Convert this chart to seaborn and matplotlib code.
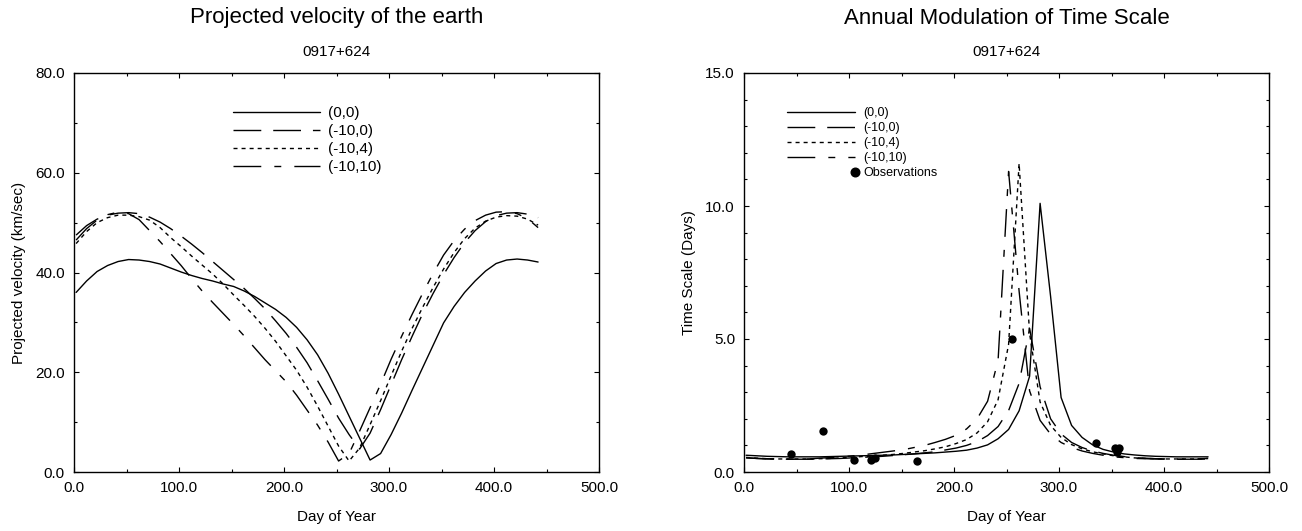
import numpy as np
import pandas as pd
import seaborn as sns
import matplotlib.pyplot as plt
from matplotlib.ticker import MultipleLocator, FormatStrFormatter
from matplotlib.legend_handler import HandlerLine2D

# Dados --------------------------------------------------------------------
dias = [2, 12, 22, 32, 42, 52, 62, 72, 82, 92, 102, 112, 122, 132, 142,
        152, 162, 172, 182, 192, 202, 212, 222, 232, 242, 252, 262, 272, 282,
        292, 302, 312, 322, 332, 342, 352, 362, 372, 382, 392, 402, 412, 422,
        432, 442]

series = ['(0,0)', '(-10,0)', '(-10,4)', '(-10,10)']

# velocidade projetada (km/sec)
vel_0_0 = [36.0, 38.3, 40.2, 41.4, 42.2, 42.6, 42.5, 42.2, 41.7, 40.9, 40.1,
           39.4, 38.8, 38.3, 37.7, 37.2, 36.3, 35.2, 33.9, 32.6, 31.0, 29.0,
           26.5, 23.5, 19.8, 15.6, 11.2, 6.8, 2.4, 3.7, 7.5, 11.8, 16.4, 20.9,
           25.4, 29.9, 33.2, 36.0, 38.3, 40.3, 41.8, 42.5, 42.7, 42.5, 42.1]
vel_10_0 = [47.5, 49.4, 50.7, 51.5, 51.9, 52.0, 51.8, 51.1, 50.1, 48.8, 47.3,
            45.7, 44.0, 42.2, 40.4, 38.6, 36.8, 34.8, 32.7, 30.3, 27.8, 25.0,
            21.9, 18.3, 14.6, 10.8, 7.5, 4.6, 7.8, 12.5, 17.5, 22.5, 27.2,
            31.7, 35.8, 39.6, 43.0, 46.0, 48.4, 50.2, 51.4, 51.9, 52.0, 51.7,
            51.0]
vel_10_4 = [45.8, 48.2, 50.0, 51.0, 51.5, 51.5, 51.2, 50.5, 49.0, 47.0, 45.2,
            43.3, 41.5, 39.7, 37.7, 35.5, 33.4, 31.2, 28.8, 26.2, 23.3, 20.4,
            17.0, 13.2, 9.2, 5.2, 2.2, 4.8, 9.5, 14.3, 19.3, 24.2, 28.8, 33.0,
            37.0, 40.7, 44.0, 46.8, 48.9, 50.3, 51.1, 51.4, 51.3, 50.7, 49.5]
vel_10_10 = [46.5, 48.8, 50.5, 51.6, 52.1, 51.8, 50.6, 48.4, 46.2, 43.8, 41.4,
             38.8, 36.3, 34.0, 31.8, 29.6, 27.3, 24.9, 22.5, 20.3, 18.1, 15.4,
             12.4, 9.4, 6.0, 2.2, 3.7, 8.2, 12.9, 17.6, 22.6, 27.2, 31.6, 35.8,
             39.8, 43.5, 46.4, 48.7, 50.4, 51.5, 52.1, 52.2, 51.8, 50.8, 49.0]

# escala de tempo (dias)
ts_0_0 = [0.63, 0.61, 0.59, 0.58, 0.57, 0.57, 0.57, 0.57, 0.58, 0.59, 0.60,
          0.61, 0.62, 0.63, 0.64, 0.66, 0.68, 0.70, 0.72, 0.75, 0.78, 0.82,
          0.90, 1.02, 1.25, 1.60, 2.30, 3.60, 10.1, 6.6, 2.8, 1.75, 1.30, 1.02,
          0.85, 0.75, 0.68, 0.64, 0.61, 0.59, 0.58, 0.57, 0.57, 0.57, 0.57]
ts_10_0 = [0.53, 0.51, 0.49, 0.49, 0.48, 0.48, 0.48, 0.49, 0.50, 0.51, 0.53,
           0.55, 0.57, 0.59, 0.62, 0.65, 0.68, 0.72, 0.76, 0.83, 0.90, 1.00,
           1.14, 1.37, 1.71, 2.31, 3.33, 5.4, 3.2, 2.0, 1.43, 1.11, 0.92, 0.79,
           0.70, 0.63, 0.58, 0.54, 0.52, 0.50, 0.49, 0.48, 0.48, 0.48, 0.49]
ts_10_4 = [0.55, 0.52, 0.50, 0.49, 0.49, 0.49, 0.49, 0.50, 0.51, 0.53, 0.55,
           0.58, 0.60, 0.63, 0.66, 0.70, 0.75, 0.80, 0.87, 0.95, 1.07, 1.22,
           1.47, 1.89, 2.72, 4.8, 11.6, 5.2, 2.63, 1.75, 1.30, 1.03, 0.87, 0.76,
           0.68, 0.61, 0.57, 0.53, 0.51, 0.50, 0.49, 0.49, 0.49, 0.49, 0.51]
ts_10_10 = [0.54, 0.51, 0.50, 0.48, 0.48, 0.48, 0.49, 0.52, 0.54, 0.57, 0.60,
            0.64, 0.69, 0.74, 0.79, 0.84, 0.92, 1.00, 1.11, 1.23, 1.38, 1.62,
            2.00, 2.66, 4.2, 11.3, 6.8, 3.05, 1.94, 1.42, 1.11, 0.92, 0.79,
            0.70, 0.63, 0.57, 0.54, 0.51, 0.50, 0.49, 0.48, 0.48, 0.48, 0.49,
            0.51]

# observacoes
obs_dia = [45, 75.5, 105, 121, 125, 165, 255.5, 335, 353.3, 357.4, 354.9]
obs_ts = [0.67, 1.56, 0.45, 0.45, 0.54, 0.41, 5.0, 1.1, 0.89, 0.89, 0.76]

# estilos das linhas (pontos)
tracos = {'(0,0)': None, '(-10,0)': (20, 8.6), '(-10,4)': (2.9, 2.9),
          '(-10,10)': (20, 9.4, 5, 9.4)}

df_vel = pd.DataFrame({'dia': dias * 4,
                       'valor': vel_0_0 + vel_10_0 + vel_10_4 + vel_10_10,
                       'serie': [s for s in series for _ in dias]})
df_ts = pd.DataFrame({'dia': dias * 4,
                      'valor': ts_0_0 + ts_10_0 + ts_10_4 + ts_10_10,
                      'serie': [s for s in series for _ in dias]})
df_obs = pd.DataFrame({'dia': obs_dia, 'ts': obs_ts})

sns.set_style('ticks')
plt.rcParams['font.family'] = ['Liberation Sans', 'DejaVu Sans']
plt.rcParams['text.color'] = 'black'
plt.rcParams['axes.labelcolor'] = 'black'
plt.rcParams['xtick.color'] = 'black'
plt.rcParams['ytick.color'] = 'black'
plt.rcParams['xtick.direction'] = 'in'
plt.rcParams['ytick.direction'] = 'in'

W, H = 1302, 531
fig = plt.figure(figsize=(W / 100, H / 100), dpi=100)


def px_axes(x0, y0, x1, y1):
    return fig.add_axes([x0 / W, 1 - y1 / H, (x1 - x0) / W, (y1 - y0) / H])


class MarcadorDireita(HandlerLine2D):
    # coloca o marcador no fim da amostra, junto ao texto
    def get_xdata(self, legend, xdescent, ydescent, width, height, fontsize):
        x = -xdescent + width
        return np.array([x, x]), np.array([x])


def desenha_linhas(ax, df):
    for s in series:
        sub = df[df['serie'] == s]
        sns.lineplot(data=sub, x='dia', y='valor', ax=ax, color='black',
                     linewidth=1.0, legend=False, estimator=None, sort=False)
        if tracos[s] is not None:
            ax.lines[-1].set_dashes(tracos[s])
        ax.lines[-1].set_label(s)


def formata_eixo(ax, ymax, ymaj, ymin, ylabel):
    ax.set_xlim(0, 500)
    ax.set_ylim(0, ymax)
    ax.xaxis.set_major_locator(MultipleLocator(100))
    ax.xaxis.set_minor_locator(MultipleLocator(50))
    ax.yaxis.set_major_locator(MultipleLocator(ymaj))
    ax.yaxis.set_minor_locator(MultipleLocator(ymin))
    ax.xaxis.set_major_formatter(FormatStrFormatter('%.1f'))
    ax.yaxis.set_major_formatter(FormatStrFormatter('%.1f'))
    ax.tick_params(which='both', top=True, right=True, direction='in',
                   labelsize=11, width=0.8, pad=6.5, colors='black')
    ax.tick_params(which='major', length=3.6)
    ax.tick_params(which='minor', length=2.2)
    for sp in ax.spines.values():
        sp.set_linewidth(1.0)
        sp.set_color('black')
    ax.set_xlabel('Day of Year', fontsize=11)
    ax.set_ylabel(ylabel, fontsize=11)
    ax.xaxis.label.set_va('center')
    ax.yaxis.label.set_va('center')
    ax.xaxis.set_label_coords(0.5, (472 - 517) / 399)
    ax.yaxis.set_label_coords(-0.104, 0.5)


# Grafico 1: velocidade projetada
ax1 = px_axes(74, 73, 599, 472)
desenha_linhas(ax1, df_vel)
formata_eixo(ax1, 80, 20, 10, 'Projected velocity (km/sec)')
ax1.legend(handles=ax1.lines[:4], labels=series, frameon=False, fontsize=11,
           loc='upper left', bbox_to_anchor=(233 / W, 1 - 106.5 / H),
           bbox_transform=fig.transFigure, borderpad=0, borderaxespad=0,
           handlelength=5.7, handletextpad=0.52, labelspacing=0.26)
fig.text((74 + 599) / 2 / W, 1 - 18 / H, 'Projected velocity of the earth',
         ha='center', va='center', fontsize=16)
fig.text((74 + 599) / 2 / W, 1 - 52.5 / H, '0917+624',
         ha='center', va='center', fontsize=11)

# Grafico 2: escala de tempo
ax2 = px_axes(744, 73, 1269, 472)
desenha_linhas(ax2, df_ts)
sns.scatterplot(data=df_obs, x='dia', y='ts', ax=ax2, color='black', s=36,
                linewidth=0, zorder=3, legend=False)
formata_eixo(ax2, 15, 5, 1, 'Time Scale (Days)')
obs_handle = plt.Line2D([], [], linestyle='none', marker='o', color='black',
                        markersize=6.2)
ax2.legend(handles=ax2.lines[:4] + [obs_handle],
           labels=series + ['Observations'], frameon=False, fontsize=9,
           loc='upper left', bbox_to_anchor=(787 / W, 1 - 107 / H),
           bbox_transform=fig.transFigure, borderpad=0, borderaxespad=0,
           handlelength=5.45, handletextpad=0.64, labelspacing=0.25,
           handler_map={obs_handle: MarcadorDireita()})
fig.text((744 + 1269) / 2 / W, 1 - 18 / H, 'Annual Modulation of Time Scale',
         ha='center', va='center', fontsize=16)
fig.text((744 + 1269) / 2 / W, 1 - 52.5 / H, '0917+624',
         ha='center', va='center', fontsize=11)

fig.savefig('out.png', dpi=100)
